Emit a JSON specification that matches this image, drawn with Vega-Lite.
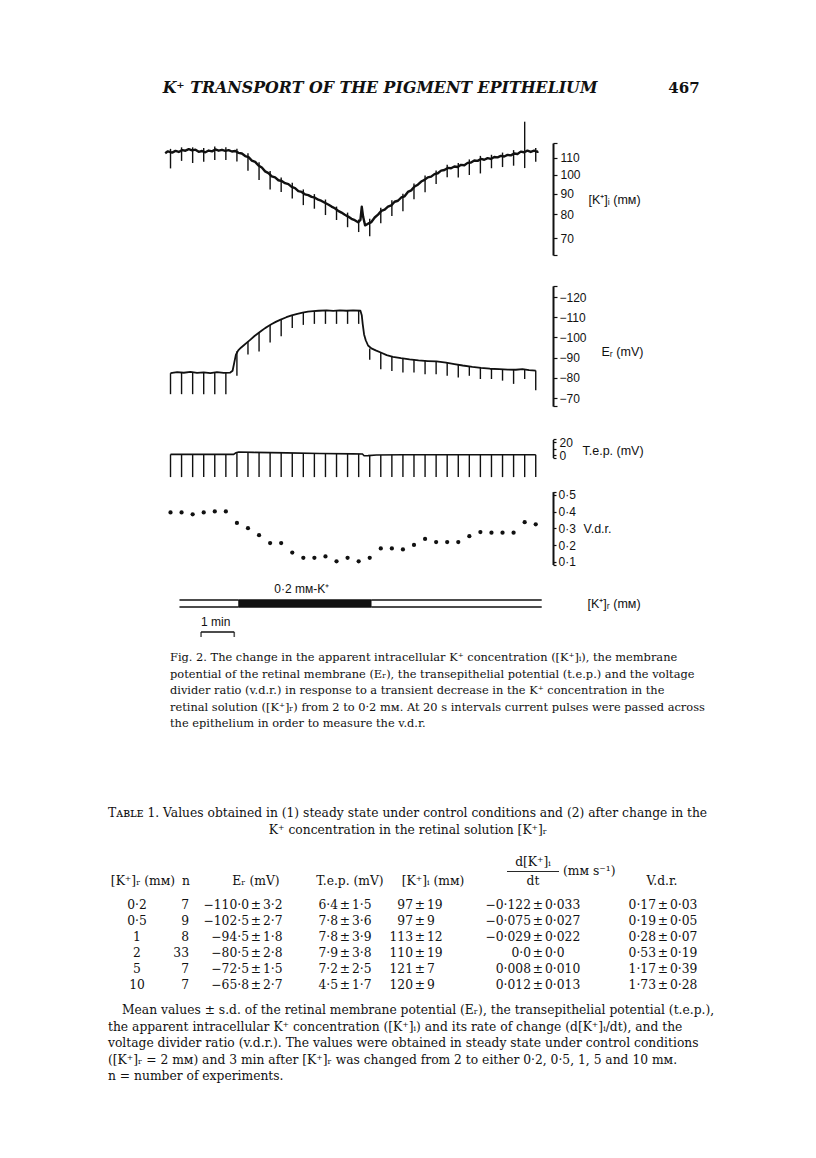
{
  "$schema": "https://vega.github.io/schema/vega-lite/v6.json",
  "background": "white",
  "padding": {"left": 0, "top": 64, "right": 0, "bottom": 0},
  "spacing": 0,
  "bounds": "flush",
  "config": {
    "view": {"stroke": null},
    "axis": {"labelFont": "Liberation Sans", "titleFont": "Liberation Sans", "labelColor": "#111", "titleColor": "#111", "domainColor": "#111", "tickColor": "#111", "grid": false, "labelFontSize": 12, "titleFontSize": 12, "titleFontWeight": "normal", "labelOverlap": false},
    "text": {"color": "#111"}
  },
  "datasets": {
    "header": [
      {"part": "running head", "text": "K⁺ TRANSPORT OF THE PIGMENT EPITHELIUM"},
      {"part": "folio", "text": "467"}
    ],
    "ki": [
      {"t": -0.16, "ki": 113.0}, {"t": -0.08, "ki": 114.2}, {"t": 0.05, "ki": 113.4}, {"t": 0.15, "ki": 114.5}, {"t": 0.25, "ki": 113.8},
      {"t": 0.35, "ki": 115.0}, {"t": 0.45, "ki": 114.6}, {"t": 0.55, "ki": 115.6}, {"t": 0.65, "ki": 114.8}, {"t": 0.75, "ki": 115.3},
      {"t": 0.85, "ki": 113.9}, {"t": 0.95, "ki": 114.4}, {"t": 1.05, "ki": 113.6}, {"t": 1.15, "ki": 114.7}, {"t": 1.25, "ki": 114.2},
      {"t": 1.35, "ki": 115.4}, {"t": 1.45, "ki": 114.6}, {"t": 1.55, "ki": 115.2}, {"t": 1.65, "ki": 114.5}, {"t": 1.75, "ki": 115.0},
      {"t": 1.85, "ki": 114.1}, {"t": 1.95, "ki": 114.4}, {"t": 2.05, "ki": 113.2}, {"t": 2.15, "ki": 112.8}, {"t": 2.25, "ki": 111.2},
      {"t": 2.35, "ki": 110.5}, {"t": 2.45, "ki": 108.4}, {"t": 2.55, "ki": 107.6}, {"t": 2.65, "ki": 105.4}, {"t": 2.75, "ki": 104.2},
      {"t": 2.85, "ki": 102.0}, {"t": 2.95, "ki": 101.0}, {"t": 3.05, "ki": 99.2}, {"t": 3.15, "ki": 98.6}, {"t": 3.25, "ki": 97.0},
      {"t": 3.35, "ki": 96.6}, {"t": 3.45, "ki": 95.4}, {"t": 3.55, "ki": 94.9}, {"t": 3.65, "ki": 93.4}, {"t": 3.75, "ki": 92.8},
      {"t": 3.85, "ki": 91.2}, {"t": 3.95, "ki": 90.8}, {"t": 4.05, "ki": 89.6}, {"t": 4.15, "ki": 89.2}, {"t": 4.25, "ki": 88.3},
      {"t": 4.35, "ki": 87.9}, {"t": 4.45, "ki": 86.9}, {"t": 4.55, "ki": 86.3}, {"t": 4.65, "ki": 85.4}, {"t": 4.75, "ki": 84.6},
      {"t": 4.85, "ki": 83.6}, {"t": 4.95, "ki": 82.8}, {"t": 5.05, "ki": 81.6}, {"t": 5.15, "ki": 80.8}, {"t": 5.25, "ki": 79.8},
      {"t": 5.35, "ki": 79.0}, {"t": 5.45, "ki": 78.0}, {"t": 5.55, "ki": 77.4}, {"t": 5.65, "ki": 76.5}, {"t": 5.72, "ki": 77.5},
      {"t": 5.76, "ki": 83.5}, {"t": 5.8, "ki": 79.0}, {"t": 5.86, "ki": 75.2}, {"t": 5.95, "ki": 75.9}, {"t": 6.05, "ki": 76.6},
      {"t": 6.15, "ki": 78.6}, {"t": 6.25, "ki": 79.9}, {"t": 6.35, "ki": 81.6}, {"t": 6.45, "ki": 82.2}, {"t": 6.55, "ki": 83.6},
      {"t": 6.65, "ki": 84.2}, {"t": 6.75, "ki": 85.9}, {"t": 6.85, "ki": 86.4}, {"t": 6.95, "ki": 88.0}, {"t": 7.05, "ki": 88.6},
      {"t": 7.15, "ki": 90.8}, {"t": 7.25, "ki": 91.6}, {"t": 7.35, "ki": 93.6}, {"t": 7.45, "ki": 94.6}, {"t": 7.55, "ki": 96.3},
      {"t": 7.65, "ki": 97.2}, {"t": 7.75, "ki": 98.6}, {"t": 7.85, "ki": 99.0}, {"t": 7.95, "ki": 100.4}, {"t": 8.05, "ki": 100.9},
      {"t": 8.15, "ki": 102.4}, {"t": 8.25, "ki": 102.8}, {"t": 8.35, "ki": 104.0}, {"t": 8.45, "ki": 103.8}, {"t": 8.55, "ki": 104.8},
      {"t": 8.65, "ki": 104.5}, {"t": 8.75, "ki": 105.8}, {"t": 8.85, "ki": 105.6}, {"t": 8.95, "ki": 107.0}, {"t": 9.05, "ki": 107.2},
      {"t": 9.15, "ki": 108.4}, {"t": 9.25, "ki": 108.2}, {"t": 9.35, "ki": 109.4}, {"t": 9.45, "ki": 108.9}, {"t": 9.55, "ki": 109.9},
      {"t": 9.65, "ki": 109.4}, {"t": 9.75, "ki": 110.6}, {"t": 9.85, "ki": 110.4}, {"t": 9.95, "ki": 111.3}, {"t": 10.05, "ki": 110.9},
      {"t": 10.15, "ki": 111.9}, {"t": 10.25, "ki": 111.6}, {"t": 10.35, "ki": 112.8}, {"t": 10.45, "ki": 112.5}, {"t": 10.55, "ki": 114.0},
      {"t": 10.65, "ki": 113.6}, {"t": 10.75, "ki": 114.6}, {"t": 10.85, "ki": 113.8}, {"t": 10.95, "ki": 114.6}, {"t": 11.05, "ki": 113.9},
      {"t": 11.08, "ki": 114.2}
    ],
    "er": [
      {"t": 0, "er": -82.3}, {"t": 0.2, "er": -82.8}, {"t": 0.4, "er": -82.5}, {"t": 0.6, "er": -82.9}, {"t": 0.8, "er": -82.4},
      {"t": 1.0, "er": -82.7}, {"t": 1.2, "er": -82.3}, {"t": 1.4, "er": -82.8}, {"t": 1.6, "er": -82.4}, {"t": 1.8, "er": -82.6},
      {"t": 1.87, "er": -83.5}, {"t": 1.92, "er": -87.5}, {"t": 1.97, "er": -91.5}, {"t": 2.04, "er": -93.6}, {"t": 2.12, "er": -94.9},
      {"t": 2.2, "er": -96.0}, {"t": 2.3, "er": -97.4}, {"t": 2.4, "er": -98.8}, {"t": 2.53, "er": -100.7}, {"t": 2.65, "er": -102.2},
      {"t": 2.75, "er": -103.4}, {"t": 2.85, "er": -104.6}, {"t": 2.95, "er": -105.6}, {"t": 3.05, "er": -106.6}, {"t": 3.17, "er": -107.7},
      {"t": 3.3, "er": -108.7}, {"t": 3.49, "er": -110.0}, {"t": 3.65, "er": -110.9}, {"t": 3.82, "er": -111.7}, {"t": 3.98, "er": -112.3},
      {"t": 4.14, "er": -112.8}, {"t": 4.3, "er": -113.0}, {"t": 4.46, "er": -113.2}, {"t": 4.7, "er": -113.4}, {"t": 4.9, "er": -113.1},
      {"t": 5.1, "er": -113.4}, {"t": 5.3, "er": -113.2}, {"t": 5.5, "er": -113.4}, {"t": 5.72, "er": -113.2}, {"t": 5.76, "er": -111.0},
      {"t": 5.79, "er": -106.5}, {"t": 5.83, "er": -101.5}, {"t": 5.88, "er": -98.6}, {"t": 5.95, "er": -96.0}, {"t": 6.05, "er": -94.6},
      {"t": 6.18, "er": -93.6}, {"t": 6.35, "er": -92.4}, {"t": 6.51, "er": -91.2}, {"t": 6.7, "er": -90.4}, {"t": 6.94, "er": -89.7},
      {"t": 7.2, "er": -89.1}, {"t": 7.47, "er": -88.6}, {"t": 7.75, "er": -88.3}, {"t": 8.01, "er": -88.1}, {"t": 8.3, "er": -87.5},
      {"t": 8.55, "er": -86.8}, {"t": 8.8, "er": -86.1}, {"t": 9.09, "er": -85.4}, {"t": 9.35, "er": -84.9}, {"t": 9.62, "er": -84.5},
      {"t": 9.9, "er": -84.3}, {"t": 10.16, "er": -84.1}, {"t": 10.4, "er": -84.0}, {"t": 10.6, "er": -84.3}, {"t": 10.8, "er": -83.8},
      {"t": 11.0, "er": -83.6}
    ],
    "tep": [
      {"t": 0, "tep": 1}, {"t": 1.9, "tep": 1}, {"t": 1.97, "tep": 3.5}, {"t": 2.05, "tep": 4.5}, {"t": 2.5, "tep": 4.0},
      {"t": 3.5, "tep": 3.2}, {"t": 4.5, "tep": 2.4}, {"t": 5.5, "tep": 1.8}, {"t": 5.78, "tep": 1.5}, {"t": 5.83, "tep": -1.2},
      {"t": 5.95, "tep": -1.0}, {"t": 6.2, "tep": 0}, {"t": 7.0, "tep": 0.5}, {"t": 11.0, "tep": 0.5}
    ],
    "pulses": [
      {"t": 0, "ki_lo": 103.7, "ki_hi": 115.8, "er": -82.3, "er_tip": -71.9, "tep": 1, "tep_tip": -34, "vdr": 0.396},
      {"t": 0.333, "ki_lo": 108.2, "ki_hi": 116.8, "er": -82.6, "er_tip": -71.9, "tep": 1, "tep_tip": -34, "vdr": 0.396},
      {"t": 0.667, "ki_lo": 106.9, "ki_hi": 116.8, "er": -82.7, "er_tip": -71.9, "tep": 1, "tep_tip": -34, "vdr": 0.385},
      {"t": 1.0, "ki_lo": 107.7, "ki_hi": 116.3, "er": -82.7, "er_tip": -71.9, "tep": 1, "tep_tip": -34, "vdr": 0.396},
      {"t": 1.333, "ki_lo": 108.7, "ki_hi": 117.3, "er": -82.6, "er_tip": -71.9, "tep": 1, "tep_tip": -34, "vdr": 0.402},
      {"t": 1.667, "ki_lo": 108.8, "ki_hi": 116.8, "er": -82.5, "er_tip": -71.9, "tep": 1, "tep_tip": -34, "vdr": 0.402},
      {"t": 2.0, "ki_lo": 107.8, "ki_hi": 115.8, "er": -93.2, "er_tip": -81.0, "tep": 4.0, "tep_tip": -34, "vdr": 0.333},
      {"t": 2.333, "ki_lo": 102.3, "ki_hi": 112.9, "er": -97.9, "er_tip": -91.5, "tep": 4.2, "tep_tip": -34, "vdr": 0.302},
      {"t": 2.667, "ki_lo": 97.2, "ki_hi": 107.3, "er": -102.4, "er_tip": -93.0, "tep": 3.9, "tep_tip": -34, "vdr": 0.26},
      {"t": 3.0, "ki_lo": 92.1, "ki_hi": 102.2, "er": -106.1, "er_tip": -97.5, "tep": 3.6, "tep_tip": -34, "vdr": 0.213},
      {"t": 3.333, "ki_lo": 90.8, "ki_hi": 98.5, "er": -108.9, "er_tip": -100.6, "tep": 3.3, "tep_tip": -34, "vdr": 0.213},
      {"t": 3.667, "ki_lo": 87.5, "ki_hi": 95.6, "er": -111.0, "er_tip": -104.6, "tep": 3.1, "tep_tip": -34, "vdr": 0.156},
      {"t": 4.0, "ki_lo": 84.3, "ki_hi": 92.1, "er": -112.4, "er_tip": -106.2, "tep": 2.8, "tep_tip": -34, "vdr": 0.125},
      {"t": 4.333, "ki_lo": 82.6, "ki_hi": 89.7, "er": -113.0, "er_tip": -106.7, "tep": 2.6, "tep_tip": -34, "vdr": 0.125},
      {"t": 4.667, "ki_lo": 79.7, "ki_hi": 87.0, "er": -113.4, "er_tip": -106.7, "tep": 2.3, "tep_tip": -34, "vdr": 0.133},
      {"t": 5.0, "ki_lo": 77.5, "ki_hi": 83.6, "er": -113.2, "er_tip": -106.7, "tep": 2.1, "tep_tip": -34, "vdr": 0.104},
      {"t": 5.333, "ki_lo": 74.4, "ki_hi": 80.8, "er": -113.2, "er_tip": -106.7, "tep": 1.9, "tep_tip": -34, "vdr": 0.125},
      {"t": 5.667, "ki_lo": 72.4, "ki_hi": 77.7, "er": -113.3, "er_tip": -106.7, "tep": 1.7, "tep_tip": -34, "vdr": 0.104},
      {"t": 6.0, "ki_lo": 70.7, "ki_hi": 78.0, "er": -94.5, "er_tip": -88.9, "tep": -0.4, "tep_tip": -34, "vdr": 0.125},
      {"t": 6.333, "ki_lo": 76.1, "ki_hi": 83.1, "er": -92.5, "er_tip": -84.2, "tep": 0.1, "tep_tip": -34, "vdr": 0.181},
      {"t": 6.667, "ki_lo": 79.3, "ki_hi": 86.6, "er": -90.5, "er_tip": -83.4, "tep": 0.3, "tep_tip": -34, "vdr": 0.181},
      {"t": 7.0, "ki_lo": 81.4, "ki_hi": 89.9, "er": -89.6, "er_tip": -82.6, "tep": 0.5, "tep_tip": -34, "vdr": 0.175},
      {"t": 7.333, "ki_lo": 87.1, "ki_hi": 95.2, "er": -88.9, "er_tip": -82.6, "tep": 0.5, "tep_tip": -34, "vdr": 0.202},
      {"t": 7.667, "ki_lo": 90.7, "ki_hi": 99.6, "er": -88.4, "er_tip": -81.8, "tep": 0.5, "tep_tip": -34, "vdr": 0.238},
      {"t": 8.0, "ki_lo": 95.0, "ki_hi": 102.5, "er": -88.1, "er_tip": -81.8, "tep": 0.5, "tep_tip": -34, "vdr": 0.219},
      {"t": 8.333, "ki_lo": 98.6, "ki_hi": 105.8, "er": -87.4, "er_tip": -81.0, "tep": 0.5, "tep_tip": -34, "vdr": 0.219},
      {"t": 8.667, "ki_lo": 98.5, "ki_hi": 106.9, "er": -86.5, "er_tip": -80.2, "tep": 0.5, "tep_tip": -34, "vdr": 0.219},
      {"t": 9.0, "ki_lo": 99.9, "ki_hi": 109.1, "er": -85.6, "er_tip": -81.0, "tep": 0.5, "tep_tip": -34, "vdr": 0.254},
      {"t": 9.333, "ki_lo": 100.8, "ki_hi": 111.3, "er": -84.9, "er_tip": -79.4, "tep": 0.5, "tep_tip": -34, "vdr": 0.279},
      {"t": 9.667, "ki_lo": 103.8, "ki_hi": 112.0, "er": -84.5, "er_tip": -79.4, "tep": 0.5, "tep_tip": -34, "vdr": 0.275},
      {"t": 10.0, "ki_lo": 104.5, "ki_hi": 113.4, "er": -84.2, "er_tip": -78.6, "tep": 0.5, "tep_tip": -34, "vdr": 0.275},
      {"t": 10.333, "ki_lo": 105.3, "ki_hi": 115.0, "er": -84.0, "er_tip": -77.0, "tep": 0.5, "tep_tip": -34, "vdr": 0.275},
      {"t": 10.667, "ki_lo": 103.9, "ki_hi": 135.0, "er": -84.2, "er_tip": -79.4, "tep": 0.5, "tep_tip": -34, "vdr": 0.338},
      {"t": 11.0, "ki_lo": 107.7, "ki_hi": 116.3, "er": -83.6, "er_tip": -73.9, "tep": 0.5, "tep_tip": -34, "vdr": 0.325}
    ],
    "solution": [
      {"series": "[K⁺]ᵣ (mᴍ)", "start": 0.27, "end": 2.04, "K_r": "2"},
      {"series": "[K⁺]ᵣ (mᴍ)", "start": 2.04, "end": 6.06, "K_r": "0·2", "label": "0·2 mᴍ-K⁺"},
      {"series": "[K⁺]ᵣ (mᴍ)", "start": 6.06, "end": 11.18, "K_r": "2"}
    ],
    "scalebar": [{"start": 0.92, "end": 1.92, "label": "1 min"}],
    "caption": [
      {"line": 1, "text": "Fig. 2. The change in the apparent intracellular K⁺ concentration ([K⁺]ᵢ), the membrane"},
      {"line": 2, "text": "potential of the retinal membrane (Eᵣ), the transepithelial potential (t.e.p.) and the voltage"},
      {"line": 3, "text": "divider ratio (v.d.r.) in response to a transient decrease in the K⁺ concentration in the"},
      {"line": 4, "text": "retinal solution ([K⁺]ᵣ) from 2 to 0·2 mᴍ. At 20 s intervals current pulses were passed across"},
      {"line": 5, "text": "the epithelium in order to measure the v.d.r."}
    ],
    "tabletitle": [
      {"line": 1, "text": "Tᴀʙʟᴇ 1. Values obtained in (1) steady state under control conditions and (2) after change in the"},
      {"line": 2, "text": "K⁺ concentration in the retinal solution [K⁺]ᵣ"}
    ],
    "tablehead": [
      {"col": 1, "line": "main", "label": "[K⁺]ᵣ (mᴍ)"},
      {"col": 2, "line": "main", "label": "n"},
      {"col": 3, "line": "main", "label": "Eᵣ (mV)"},
      {"col": 4, "line": "main", "label": "T.e.p. (mV)"},
      {"col": 5, "line": "main", "label": "[K⁺]ᵢ (mᴍ)"},
      {"col": 6, "line": "num", "label": "d[K⁺]ᵢ", "units": "(mᴍ s⁻¹)"},
      {"col": 6, "line": "main", "label": "dt"},
      {"col": 7, "line": "main", "label": "V.d.r."}
    ],
    "table": [
      {"K_r": "0·2", "col": 1, "mean": "0·2"}, {"K_r": "0·2", "col": 2, "mean": "7"},
      {"K_r": "0·2", "col": 3, "mean": "−110·0", "sd": "3·2"}, {"K_r": "0·2", "col": 4, "mean": "6·4", "sd": "1·5"},
      {"K_r": "0·2", "col": 5, "mean": "97", "sd": "19"}, {"K_r": "0·2", "col": 6, "mean": "−0·122", "sd": "0·033"},
      {"K_r": "0·2", "col": 7, "mean": "0·17", "sd": "0·03"},
      {"K_r": "0·5", "col": 1, "mean": "0·5"}, {"K_r": "0·5", "col": 2, "mean": "9"},
      {"K_r": "0·5", "col": 3, "mean": "−102·5", "sd": "2·7"}, {"K_r": "0·5", "col": 4, "mean": "7·8", "sd": "3·6"},
      {"K_r": "0·5", "col": 5, "mean": "97", "sd": "9"}, {"K_r": "0·5", "col": 6, "mean": "−0·075", "sd": "0·027"},
      {"K_r": "0·5", "col": 7, "mean": "0·19", "sd": "0·05"},
      {"K_r": "1", "col": 1, "mean": "1"}, {"K_r": "1", "col": 2, "mean": "8"},
      {"K_r": "1", "col": 3, "mean": "−94·5", "sd": "1·8"}, {"K_r": "1", "col": 4, "mean": "7·8", "sd": "3·9"},
      {"K_r": "1", "col": 5, "mean": "113", "sd": "12"}, {"K_r": "1", "col": 6, "mean": "−0·029", "sd": "0·022"},
      {"K_r": "1", "col": 7, "mean": "0·28", "sd": "0·07"},
      {"K_r": "2", "col": 1, "mean": "2"}, {"K_r": "2", "col": 2, "mean": "33"},
      {"K_r": "2", "col": 3, "mean": "−80·5", "sd": "2·8"}, {"K_r": "2", "col": 4, "mean": "7·9", "sd": "3·8"},
      {"K_r": "2", "col": 5, "mean": "110", "sd": "19"}, {"K_r": "2", "col": 6, "mean": "0·0", "sd": "0·0"},
      {"K_r": "2", "col": 7, "mean": "0·53", "sd": "0·19"},
      {"K_r": "5", "col": 1, "mean": "5"}, {"K_r": "5", "col": 2, "mean": "7"},
      {"K_r": "5", "col": 3, "mean": "−72·5", "sd": "1·5"}, {"K_r": "5", "col": 4, "mean": "7·2", "sd": "2·5"},
      {"K_r": "5", "col": 5, "mean": "121", "sd": "7"}, {"K_r": "5", "col": 6, "mean": "0·008", "sd": "0·010"},
      {"K_r": "5", "col": 7, "mean": "1·17", "sd": "0·39"},
      {"K_r": "10", "col": 1, "mean": "10"}, {"K_r": "10", "col": 2, "mean": "7"},
      {"K_r": "10", "col": 3, "mean": "−65·8", "sd": "2·7"}, {"K_r": "10", "col": 4, "mean": "4·5", "sd": "1·7"},
      {"K_r": "10", "col": 5, "mean": "120", "sd": "9"}, {"K_r": "10", "col": 6, "mean": "0·012", "sd": "0·013"},
      {"K_r": "10", "col": 7, "mean": "1·73", "sd": "0·28"}
    ],
    "notes": [
      {"line": 1, "text": "Mean values ± s.d. of the retinal membrane potential (Eᵣ), the transepithelial potential (t.e.p.),"},
      {"line": 2, "text": "the apparent intracellular K⁺ concentration ([K⁺]ᵢ) and its rate of change (d[K⁺]ᵢ/dt), and the"},
      {"line": 3, "text": "voltage divider ratio (v.d.r.). The values were obtained in steady state under control conditions"},
      {"line": 4, "text": "([K⁺]ᵣ = 2 mᴍ) and 3 min after [K⁺]ᵣ was changed from 2 to either 0·2, 0·5, 1, 5 and 10 mᴍ."},
      {"line": 5, "text": "n = number of experiments."}
    ]
  },
  "vconcat": [
    {
      "width": 816, "height": 48,
      "data": {"name": "header"},
      "layer": [
        {
          "transform": [{"filter": "datum.part == 'running head'"}],
          "mark": {"type": "text", "font": "DejaVu Serif", "fontStyle": "italic", "fontWeight": "bold", "fontSize": 15.8, "align": "center", "baseline": "middle"},
          "encoding": {
            "x": {"field": "part", "type": "nominal", "scale": {"type": "point", "domain": ["running head", "folio"], "range": [380, 684], "padding": 0}, "axis": null},
            "text": {"field": "text"}
          }
        },
        {
          "transform": [{"filter": "datum.part == 'folio'"}],
          "mark": {"type": "text", "font": "DejaVu Serif", "fontWeight": "bold", "fontSize": 15, "align": "center", "baseline": "middle"},
          "encoding": {
            "x": {"field": "part", "type": "nominal", "scale": {"type": "point", "domain": ["running head", "folio"], "range": [380, 684], "padding": 0}, "axis": null},
            "text": {"field": "text"}
          }
        }
      ]
    },
    {
      "width": 553, "height": 158,
      "resolve": {"axis": {"y": "independent"}},
      "layer": [
        {
          "data": {"name": "ki"},
          "mark": {"type": "line", "color": "#111", "strokeWidth": 2.4, "strokeJoin": "round"},
          "encoding": {
            "x": {"field": "t", "type": "quantitative", "scale": {"domain": [-5.1355, 11.52], "nice": false, "zero": false}, "axis": null},
            "y": {"field": "ki", "type": "quantitative",
              "scale": {"type": "log", "domain": [63.6, 119.7], "range": [143, 31], "nice": false, "zero": false},
              "axis": {"orient": "right", "values": [63.6, 70, 80, 90, 100, 110, 119.7], "format": "d",
                "labelExpr": "datum.value < 65 || datum.value > 115 ? '' : datum.label",
                "tickSize": 4, "tickWidth": 1.2, "domainWidth": 2, "labelPadding": 3, "labelBaseline": "middle", "labelAlign": "left",
                "labelOverlap": false, "labelFlush": false, "labelBound": false,
                "title": "[K⁺]ᵢ (mᴍ)", "titleAngle": 0, "titleAlign": "left", "titleBaseline": "middle", "titleX": 35, "titleY": 87, "titleFontSize": 12.5}}
          }
        },
        {
          "data": {"name": "pulses"},
          "mark": {"type": "rule", "color": "#111", "strokeWidth": 1.4},
          "encoding": {
            "x": {"field": "t", "type": "quantitative", "scale": {"domain": [-5.1355, 11.52], "nice": false, "zero": false}, "axis": null},
            "y": {"field": "ki_lo", "type": "quantitative", "scale": {"type": "log", "domain": [63.6, 119.7], "range": [143, 31], "nice": false, "zero": false}, "axis": null},
            "y2": {"field": "ki_hi"}
          }
        }
      ]
    },
    {
      "width": 553, "height": 155,
      "resolve": {"axis": {"y": "independent"}},
      "layer": [
        {
          "data": {"name": "er"},
          "mark": {"type": "line", "color": "#111", "strokeWidth": 1.8, "strokeJoin": "round"},
          "encoding": {
            "x": {"field": "t", "type": "quantitative", "scale": {"domain": [-5.1355, 11.52], "nice": false, "zero": false}, "axis": null},
            "y": {"field": "er", "type": "quantitative",
              "scale": {"domain": [-125.5, -66], "range": [15.9, 136.1], "nice": false, "zero": false},
              "axis": {"orient": "right", "values": [-125.5, -120, -110, -100, -90, -80, -70, -66],
                "labelExpr": "datum.value < -122 || datum.value > -68 ? '' : datum.label",
                "tickSize": 4, "tickWidth": 1.2, "domainWidth": 2, "labelPadding": 2, "labelBaseline": "middle", "labelAlign": "left",
                "labelOverlap": false, "labelFlush": false, "labelBound": false,
                "title": "Eᵣ (mV)", "titleAngle": 0, "titleAlign": "left", "titleBaseline": "middle", "titleX": 48, "titleY": 81, "titleFontSize": 12.5}}
          }
        },
        {
          "data": {"name": "pulses"},
          "mark": {"type": "rule", "color": "#111", "strokeWidth": 1.4},
          "encoding": {
            "x": {"field": "t", "type": "quantitative", "scale": {"domain": [-5.1355, 11.52], "nice": false, "zero": false}, "axis": null},
            "y": {"field": "er", "type": "quantitative", "scale": {"domain": [-125.5, -66], "range": [15.9, 136.1], "nice": false, "zero": false}, "axis": null},
            "y2": {"field": "er_tip"}
          }
        }
      ]
    },
    {
      "width": 553, "height": 53,
      "resolve": {"axis": {"y": "independent"}},
      "layer": [
        {
          "data": {"name": "tep"},
          "mark": {"type": "line", "color": "#111", "strokeWidth": 1.6},
          "encoding": {
            "x": {"field": "t", "type": "quantitative", "scale": {"domain": [-5.1355, 11.52], "nice": false, "zero": false}, "axis": null},
            "y": {"field": "tep", "type": "quantitative",
              "scale": {"domain": [-4, 24], "range": [32.6, 14.4], "nice": false, "zero": false},
              "axis": {"orient": "right", "values": [-4, 0, 10, 20, 24],
                "labelExpr": "datum.value == 0 || datum.value == 20 ? datum.label : ''",
                "tickSize": 3, "tickWidth": 1.2, "domainWidth": 1.6, "labelPadding": 3, "labelBaseline": "middle", "labelAlign": "left",
                "labelOverlap": false, "labelFlush": false, "labelBound": false,
                "title": "T.e.p. (mV)", "titleAngle": 0, "titleAlign": "left", "titleBaseline": "middle", "titleX": 29, "titleY": 25, "titleFontSize": 12.5}}
          }
        },
        {
          "data": {"name": "pulses"},
          "mark": {"type": "rule", "color": "#111", "strokeWidth": 1.4},
          "encoding": {
            "x": {"field": "t", "type": "quantitative", "scale": {"domain": [-5.1355, 11.52], "nice": false, "zero": false}, "axis": null},
            "y": {"field": "tep", "type": "quantitative", "scale": {"domain": [-4, 24], "range": [32.6, 14.4], "nice": false, "zero": false}, "axis": null},
            "y2": {"field": "tep_tip"}
          }
        }
      ]
    },
    {
      "width": 553, "height": 102,
      "data": {"name": "pulses"},
      "mark": {"type": "point", "filled": true, "color": "#111", "size": 18, "opacity": 1},
      "encoding": {
        "x": {"field": "t", "type": "quantitative", "scale": {"domain": [-5.1355, 11.52], "nice": false, "zero": false}, "axis": null},
        "y": {"field": "vdr", "type": "quantitative",
          "scale": {"domain": [0.085, 0.52], "range": [86.5, 13.65], "nice": false, "zero": false},
          "axis": {"orient": "right", "values": [0.085, 0.1, 0.2, 0.3, 0.4, 0.5, 0.52],
            "labelExpr": "datum.value < 0.095 || datum.value > 0.51 ? '' : replace(format(datum.value, '.1f'), '.', '·')",
            "tickSize": 3, "tickWidth": 1.2, "domainWidth": 2, "labelPadding": 2, "labelBaseline": "middle", "labelAlign": "left",
            "labelOverlap": false, "labelFlush": false, "labelBound": false,
            "title": "V.d.r.", "titleAngle": 0, "titleAlign": "left", "titleBaseline": "middle", "titleX": 30, "titleY": 50, "titleFontSize": 12.5}}
      }
    },
    {
      "width": 553, "height": 47,
      "data": {"name": "solution"},
      "layer": [
        {
          "mark": {"type": "bar", "height": 7},
          "encoding": {
            "x": {"field": "start", "type": "quantitative", "scale": {"domain": [-5.1355, 11.52], "nice": false, "zero": false}, "axis": null},
            "x2": {"field": "end"},
            "y": {"field": "series", "type": "nominal", "axis": {"orient": "right", "title": null, "ticks": false, "domain": false, "labelPadding": 34, "labelAlign": "left", "labelFontSize": 12.5}},
            "fill": {"field": "K_r", "type": "nominal", "scale": {"domain": ["2", "0·2"], "range": ["white", "#111"]}, "legend": null}
          }
        },
        {
          "mark": {"type": "rule", "color": "#111", "strokeWidth": 1.5, "yOffset": -3.5},
          "encoding": {
            "x": {"field": "start", "type": "quantitative", "scale": {"domain": [-5.1355, 11.52], "nice": false, "zero": false}, "axis": null},
            "x2": {"field": "end"},
            "y": {"field": "series", "type": "nominal"}
          }
        },
        {
          "mark": {"type": "rule", "color": "#111", "strokeWidth": 1.5, "yOffset": 3.5},
          "encoding": {
            "x": {"field": "start", "type": "quantitative", "scale": {"domain": [-5.1355, 11.52], "nice": false, "zero": false}, "axis": null},
            "x2": {"field": "end"},
            "y": {"field": "series", "type": "nominal"}
          }
        },
        {
          "transform": [{"filter": "isValid(datum.label)"}],
          "mark": {"type": "text", "align": "left", "baseline": "middle", "dx": 36, "dy": -15, "font": "Liberation Sans", "fontSize": 12},
          "encoding": {
            "x": {"field": "start", "type": "quantitative", "scale": {"domain": [-5.1355, 11.52], "nice": false, "zero": false}, "axis": null},
            "y": {"field": "series", "type": "nominal"},
            "text": {"field": "label"}
          }
        }
      ]
    },
    {
      "width": 553, "height": 10,
      "data": {"name": "scalebar"},
      "layer": [
        {
          "mark": {"type": "rule", "color": "#111", "strokeWidth": 1.6},
          "encoding": {
            "x": {"field": "start", "type": "quantitative", "scale": {"domain": [-5.1355, 11.52], "nice": false, "zero": false}, "axis": null},
            "x2": {"field": "end"}
          }
        },
        {
          "mark": {"type": "tick", "orient": "vertical", "color": "#111", "size": 5, "thickness": 1.6, "yOffset": 2.5},
          "encoding": {
            "x": {"field": "start", "type": "quantitative", "scale": {"domain": [-5.1355, 11.52], "nice": false, "zero": false}, "axis": null}
          }
        },
        {
          "mark": {"type": "tick", "orient": "vertical", "color": "#111", "size": 5, "thickness": 1.6, "yOffset": 2.5},
          "encoding": {
            "x": {"field": "end", "type": "quantitative", "scale": {"domain": [-5.1355, 11.52], "nice": false, "zero": false}, "axis": null}
          }
        },
        {
          "mark": {"type": "text", "align": "left", "baseline": "bottom", "dy": -3, "font": "Liberation Sans", "fontSize": 12},
          "encoding": {
            "x": {"field": "start", "type": "quantitative", "scale": {"domain": [-5.1355, 11.52], "nice": false, "zero": false}, "axis": null},
            "text": {"field": "label"}
          }
        }
      ]
    },
    {
      "width": 816, "height": 521,
      "resolve": {"scale": {"x": "independent", "y": "independent"}},
      "layer": [
        {
          "data": {"name": "caption"},
          "mark": {"type": "text", "align": "left", "baseline": "middle", "font": "DejaVu Serif", "fontSize": 11.4},
          "encoding": {
            "x": {"datum": 0, "type": "quantitative", "scale": {"domain": [0, 1], "range": [170, 680]}, "axis": null},
            "y": {"field": "line", "type": "ordinal", "scale": {"type": "point", "domain": [1, 2, 3, 4, 5], "range": [21, 87], "padding": 0}, "axis": null},
            "text": {"field": "text"}
          }
        },
        {
          "data": {"name": "tabletitle"},
          "transform": [{"filter": "datum.line == 1"}],
          "mark": {"type": "text", "align": "left", "baseline": "middle", "font": "DejaVu Serif", "fontSize": 12.3},
          "encoding": {
            "x": {"datum": 0, "type": "quantitative", "scale": {"domain": [0, 1], "range": [108, 708]}, "axis": null},
            "y": {"field": "line", "type": "ordinal", "scale": {"type": "point", "domain": [1, 2], "range": [176, 193], "padding": 0}, "axis": null},
            "text": {"field": "text"}
          }
        },
        {
          "data": {"name": "tabletitle"},
          "transform": [{"filter": "datum.line == 2"}],
          "mark": {"type": "text", "align": "center", "baseline": "middle", "font": "DejaVu Serif", "fontSize": 12.3},
          "encoding": {
            "x": {"datum": 0.5, "type": "quantitative", "scale": {"domain": [0, 1], "range": [108, 708]}, "axis": null},
            "y": {"field": "line", "type": "ordinal", "scale": {"type": "point", "domain": [1, 2], "range": [176, 193], "padding": 0}, "axis": null},
            "text": {"field": "text"}
          }
        },
        {
          "data": {"name": "tablehead"},
          "mark": {"type": "text", "align": "center", "baseline": "middle", "font": "DejaVu Serif", "fontSize": 12.3},
          "encoding": {
            "x": {"field": "col", "type": "quantitative", "scale": {"domain": [1, 2, 3, 4, 5, 6, 7], "range": [143, 186, 256, 350, 433, 533, 662]}, "axis": null},
            "y": {"field": "line", "type": "nominal", "scale": {"type": "point", "domain": ["num", "main"], "range": [225, 244], "padding": 0}, "axis": null},
            "text": {"field": "label"}
          }
        },
        {
          "data": {"name": "tablehead"},
          "transform": [{"filter": "datum.line == 'num'"}],
          "mark": {"type": "rule", "color": "#111", "strokeWidth": 0.9, "xOffset": -26, "x2Offset": 26, "yOffset": 9.5},
          "encoding": {
            "x": {"field": "col", "type": "quantitative", "scale": {"domain": [1, 2, 3, 4, 5, 6, 7], "range": [143, 186, 256, 350, 433, 533, 662]}, "axis": null},
            "x2": {"field": "col"},
            "y": {"field": "line", "type": "nominal", "scale": {"type": "point", "domain": ["num", "main"], "range": [225, 244], "padding": 0}, "axis": null}
          }
        },
        {
          "data": {"name": "tablehead"},
          "transform": [{"filter": "datum.line == 'num'"}],
          "mark": {"type": "text", "align": "left", "baseline": "middle", "dx": 30, "dy": 9, "font": "DejaVu Serif", "fontSize": 12.3},
          "encoding": {
            "x": {"field": "col", "type": "quantitative", "scale": {"domain": [1, 2, 3, 4, 5, 6, 7], "range": [143, 186, 256, 350, 433, 533, 662]}, "axis": null},
            "y": {"field": "line", "type": "nominal", "scale": {"type": "point", "domain": ["num", "main"], "range": [225, 244], "padding": 0}, "axis": null},
            "text": {"field": "units"}
          }
        },
        {
          "data": {"name": "table"},
          "transform": [{"filter": "datum.col == 1"}],
          "mark": {"type": "text", "align": "center", "baseline": "middle", "font": "DejaVu Serif", "fontSize": 12.3},
          "encoding": {
            "x": {"field": "col", "type": "quantitative", "scale": {"domain": [1, 2, 3, 4, 5, 6, 7], "range": [137, 189, 256, 345, 420, 538, 663]}, "axis": null},
            "y": {"field": "K_r", "type": "nominal", "scale": {"type": "point", "domain": ["0·2", "0·5", "1", "2", "5", "10"], "range": [268, 348], "padding": 0}, "axis": null},
            "text": {"field": "mean"}
          }
        },
        {
          "data": {"name": "table"},
          "transform": [{"filter": "datum.col == 2"}],
          "mark": {"type": "text", "align": "right", "baseline": "middle", "font": "DejaVu Serif", "fontSize": 12.3},
          "encoding": {
            "x": {"field": "col", "type": "quantitative", "scale": {"domain": [1, 2, 3, 4, 5, 6, 7], "range": [137, 189, 256, 345, 420, 538, 663]}, "axis": null},
            "y": {"field": "K_r", "type": "nominal", "scale": {"type": "point", "domain": ["0·2", "0·5", "1", "2", "5", "10"], "range": [268, 348], "padding": 0}, "axis": null},
            "text": {"field": "mean"}
          }
        },
        {
          "data": {"name": "table"},
          "transform": [{"filter": "datum.col >= 3"}],
          "mark": {"type": "text", "align": "right", "baseline": "middle", "dx": -7, "font": "DejaVu Serif", "fontSize": 12.3},
          "encoding": {
            "x": {"field": "col", "type": "quantitative", "scale": {"domain": [1, 2, 3, 4, 5, 6, 7], "range": [137, 189, 256, 345, 420, 538, 663]}, "axis": null},
            "y": {"field": "K_r", "type": "nominal", "scale": {"type": "point", "domain": ["0·2", "0·5", "1", "2", "5", "10"], "range": [268, 348], "padding": 0}, "axis": null},
            "text": {"field": "mean"}
          }
        },
        {
          "data": {"name": "table"},
          "transform": [{"filter": "datum.col >= 3"}],
          "mark": {"type": "text", "align": "center", "baseline": "middle", "font": "DejaVu Serif", "fontSize": 12.3},
          "encoding": {
            "x": {"field": "col", "type": "quantitative", "scale": {"domain": [1, 2, 3, 4, 5, 6, 7], "range": [137, 189, 256, 345, 420, 538, 663]}, "axis": null},
            "y": {"field": "K_r", "type": "nominal", "scale": {"type": "point", "domain": ["0·2", "0·5", "1", "2", "5", "10"], "range": [268, 348], "padding": 0}, "axis": null},
            "text": {"value": "±"}
          }
        },
        {
          "data": {"name": "table"},
          "transform": [{"filter": "datum.col >= 3"}],
          "mark": {"type": "text", "align": "left", "baseline": "middle", "dx": 7, "font": "DejaVu Serif", "fontSize": 12.3},
          "encoding": {
            "x": {"field": "col", "type": "quantitative", "scale": {"domain": [1, 2, 3, 4, 5, 6, 7], "range": [137, 189, 256, 345, 420, 538, 663]}, "axis": null},
            "y": {"field": "K_r", "type": "nominal", "scale": {"type": "point", "domain": ["0·2", "0·5", "1", "2", "5", "10"], "range": [268, 348], "padding": 0}, "axis": null},
            "text": {"field": "sd"}
          }
        },
        {
          "data": {"name": "notes"},
          "transform": [{"filter": "datum.line == 1"}],
          "mark": {"type": "text", "align": "left", "baseline": "middle", "dx": 14, "font": "DejaVu Serif", "fontSize": 12.3},
          "encoding": {
            "x": {"datum": 0, "type": "quantitative", "scale": {"domain": [0, 1], "range": [108, 708]}, "axis": null},
            "y": {"field": "line", "type": "ordinal", "scale": {"type": "point", "domain": [1, 2, 3, 4, 5], "range": [373, 439], "padding": 0}, "axis": null},
            "text": {"field": "text"}
          }
        },
        {
          "data": {"name": "notes"},
          "transform": [{"filter": "datum.line != 1"}],
          "mark": {"type": "text", "align": "left", "baseline": "middle", "font": "DejaVu Serif", "fontSize": 12.3},
          "encoding": {
            "x": {"datum": 0, "type": "quantitative", "scale": {"domain": [0, 1], "range": [108, 708]}, "axis": null},
            "y": {"field": "line", "type": "ordinal", "scale": {"type": "point", "domain": [1, 2, 3, 4, 5], "range": [373, 439], "padding": 0}, "axis": null},
            "text": {"field": "text"}
          }
        }
      ]
    }
  ]
}
